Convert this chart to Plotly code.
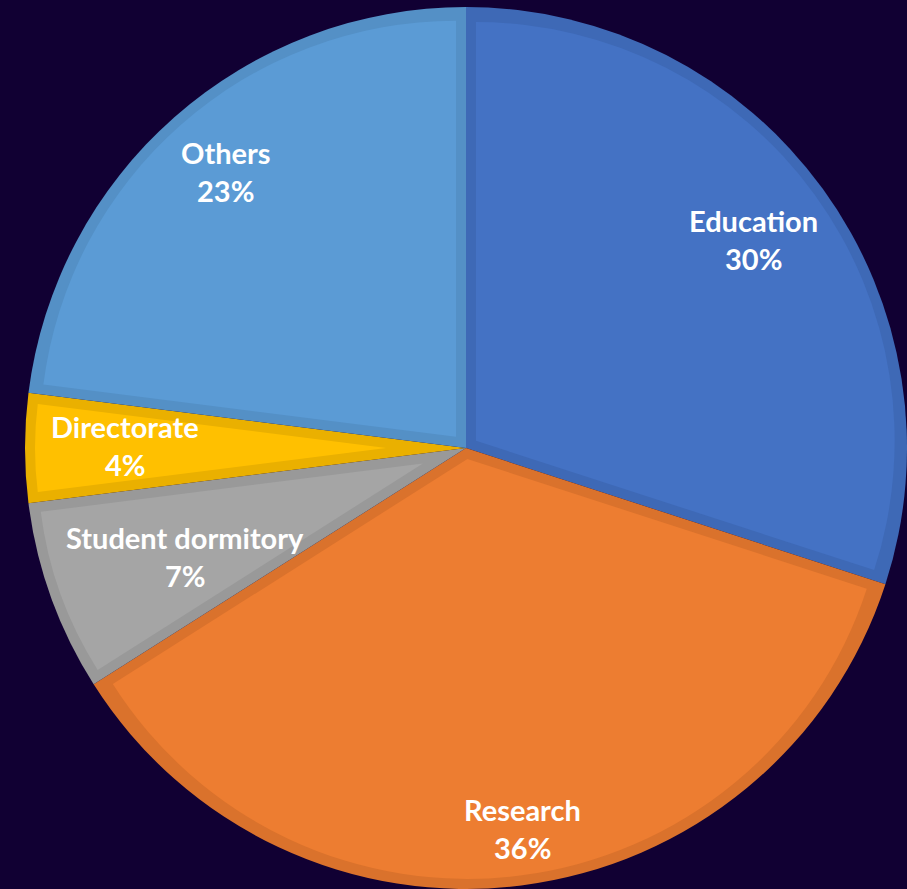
import math
import plotly.graph_objects as go

# ---- data ----
categories = ["Education", "Research", "Student dormitory", "Directorate", "Others"]
shares = [30, 36, 7, 4, 23]

# ---- styles ----
fill_colors = ["#4472C4", "#ED7D31", "#A5A5A5", "#FFC000", "#5B9BD5"]
rim_colors = ["#3E69B6", "#DA722C", "#999999", "#EAB000", "#5490C6"]
label_radius = [0.805, 0.873, 0.683, 0.773, 0.831]  # fraction of radius for label placement
label_angle_offset = [0.0, -1.2, -1.4, 0.5, 0.4]     # degrees, fine tuning of label placement
bg = "#110033"

W, H = 907, 889
ML, MT = 25, 7
PLOT = 882  # square plot area
R = PLOT / 2.0
RIM = 10.0

fig = go.Figure()

# base pie with the darker rim colours
fig.add_trace(go.Pie(
    labels=categories, values=shares, sort=False, direction="clockwise", rotation=0,
    marker=dict(colors=rim_colors, line=dict(width=0)),
    textinfo="none", hoverinfo="label+percent", showlegend=False,
    domain=dict(x=[0, 1], y=[0, 1]),
))

# inset lighter slice faces, one trace per slice (pulled outward to inset the radial edges)
total = float(sum(shares))
shrink = (R - RIM) / R
for i, v in enumerate(shares):
    theta = 2 * math.pi * v / total
    s = RIM / math.sin(min(theta, math.pi) / 2)
    p = s / (R - RIM - s)
    cols = ["rgba(0,0,0,0)"] * len(shares)
    cols[i] = fill_colors[i]
    pulls = [0] * len(shares)
    pulls[i] = p
    fig.add_trace(go.Pie(
        labels=categories, values=shares, sort=False, direction="clockwise", rotation=0,
        marker=dict(colors=cols, line=dict(width=0)), pull=pulls,
        textinfo="none", hoverinfo="skip", showlegend=False,
        domain=dict(x=[0.5 - shrink / 2, 0.5 + shrink / 2], y=[0.5 - shrink / 2, 0.5 + shrink / 2]),
    ))

# labels
cum = 0.0
annotations = []
for name, v, f, da in zip(categories, shares, label_radius, label_angle_offset):
    mid = 2 * math.pi * (cum + v / 2) / total + math.radians(da)
    cum += v
    x = 0.5 + 0.5 * f * math.sin(mid)
    y = 0.5 + 0.5 * f * math.cos(mid)
    pct = f"{round(100 * v / total)}%"
    for txt, ys in ((name, 19), (pct, -19)):
        annotations.append(dict(
            x=x, y=y, xref="paper", yref="paper", text=f"<b>{txt}</b>", showarrow=False,
            xanchor="center", yanchor="middle", yshift=ys,
            font=dict(family="Lato", size=29, color="white"),
        ))

fig.update_layout(
    width=W, height=H,
    margin=dict(l=ML, r=W - ML - PLOT, t=MT, b=H - MT - PLOT),
    paper_bgcolor=bg, plot_bgcolor=bg,
    annotations=annotations,
    showlegend=False,
)

fig.write_html(
    "out.html",
    config={"displayModeBar": False},
    post_script="document.body.style.margin='0';document.body.style.overflow='hidden';"
                "document.body.style.background='" + bg + "';",
)
